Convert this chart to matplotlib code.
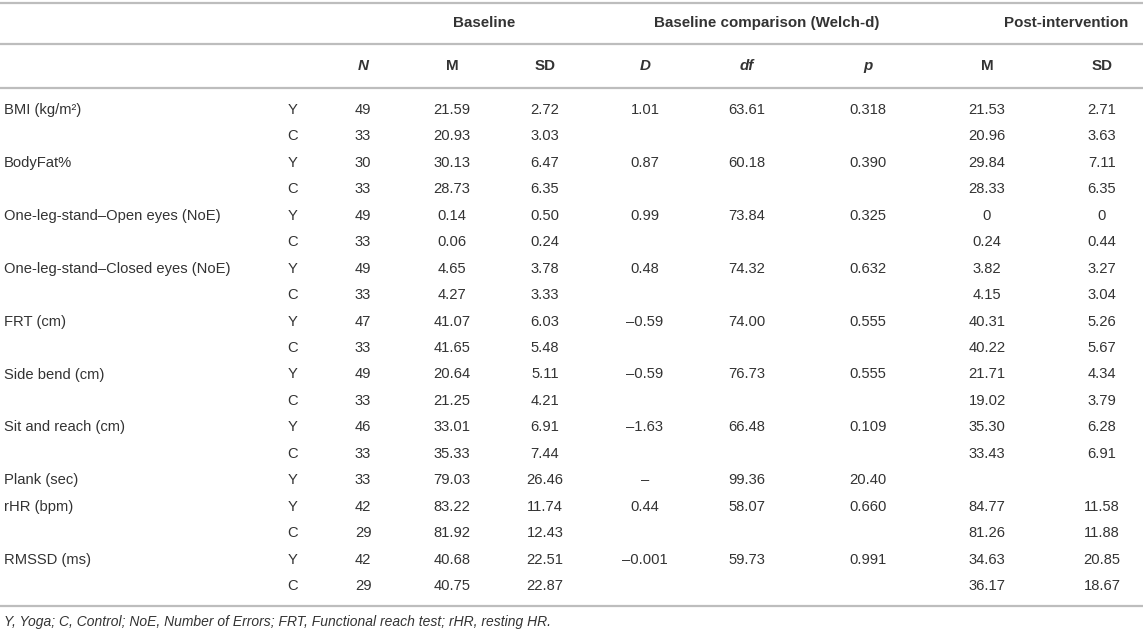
import matplotlib

matplotlib.use("Agg")
import matplotlib.pyplot as plt

W, H = 1143, 635
TXT = "#333333"
RULE = "#bdbdbd"

measures = ["BMI (kg/m²)", "BodyFat%", "One-leg-stand–Open eyes (NoE)",
            "One-leg-stand–Closed eyes (NoE)", "FRT (cm)", "Side bend (cm)",
            "Sit and reach (cm)", "Plank (sec)", "rHR (bpm)", "RMSSD (ms)"]
# one entry per printed row; measure index says which measure the row belongs to
row_measure = [0, 0, 1, 1, 2, 2, 3, 3, 4, 4, 5, 5, 6, 6, 7, 8, 8, 9, 9]
group = ["Y", "C", "Y", "C", "Y", "C", "Y", "C", "Y", "C", "Y", "C", "Y", "C",
         "Y", "Y", "C", "Y", "C"]
n = ["49", "33", "30", "33", "49", "33", "49", "33", "47", "33", "49", "33",
     "46", "33", "33", "42", "29", "42", "29"]
base_m = ["21.59", "20.93", "30.13", "28.73", "0.14", "0.06", "4.65", "4.27",
          "41.07", "41.65", "20.64", "21.25", "33.01", "35.33", "79.03",
          "83.22", "81.92", "40.68", "40.75"]
base_sd = ["2.72", "3.03", "6.47", "6.35", "0.50", "0.24", "3.78", "3.33",
           "6.03", "5.48", "5.11", "4.21", "6.91", "7.44", "26.46", "11.74",
           "12.43", "22.51", "22.87"]
welch_d = ["1.01", "", "0.87", "", "0.99", "", "0.48", "", "–0.59", "",
           "–0.59", "", "–1.63", "", "–", "0.44", "", "–0.001", ""]
welch_df = ["63.61", "", "60.18", "", "73.84", "", "74.32", "", "74.00", "",
            "76.73", "", "66.48", "", "99.36", "58.07", "", "59.73", ""]
welch_p = ["0.318", "", "0.390", "", "0.325", "", "0.632", "", "0.555", "",
           "0.555", "", "0.109", "", "20.40", "0.660", "", "0.991", ""]
post_m = ["21.53", "20.96", "29.84", "28.33", "0", "0.24", "3.82", "4.15",
          "40.31", "40.22", "21.71", "19.02", "35.30", "33.43", "", "84.77",
          "81.26", "34.63", "36.17"]
post_sd = ["2.71", "3.63", "7.11", "6.35", "0", "0.44", "3.27", "3.04", "5.26",
           "5.67", "4.34", "3.79", "6.28", "6.91", "", "11.58", "11.88",
           "20.85", "18.67"]

group_headers = ["Baseline", "Baseline comparison (Welch-d)", "Post-intervention"]
col_headers = ["N", "M", "SD", "D", "df", "p", "M", "SD"]
col_italic = [True, False, False, True, True, True, False, False]
footnote = ("Y, Yoga; C, Control; NoE, Number of Errors; FRT, Functional reach test; "
            "rHR, resting HR.")

# layout in pixels
col_x = [363, 452, 545, 645, 747, 868, 987, 1102]
group_x = [484, 767, 1066]
grp_x, label_x = 293, 4
row_y0, row_dy = 110, 26.45
rules_y = [3, 44, 88, 606]
FS = 10.6
FS_HEAD = 10.9

plt.rcParams["font.family"] = ["Liberation Sans", "DejaVu Sans"]
fig = plt.figure(figsize=(W / 100, H / 100), dpi=100)
ax = fig.add_axes([0, 0, 1, 1])
ax.set_xlim(0, W)
ax.set_ylim(H, 0)
ax.axis("off")

for y in rules_y:
    ax.axhline(y, color=RULE, lw=1.6)

for x, t in zip(group_x, group_headers):
    ax.text(x, 23, t, ha="center", va="center", fontsize=FS_HEAD,
            fontweight="bold", color=TXT)
for x, t, it in zip(col_x, col_headers, col_italic):
    ax.text(x, 66, t, ha="center", va="center", fontsize=FS_HEAD, fontweight="bold",
            style="italic" if it else "normal", color=TXT)

cols = [n, base_m, base_sd, welch_d, welch_df, welch_p, post_m, post_sd]
seen = set()
for i, mi in enumerate(row_measure):
    y = row_y0 + i * row_dy
    if mi not in seen:
        seen.add(mi)
        ax.text(label_x, y, measures[mi], ha="left", va="center", fontsize=FS, color=TXT)
    ax.text(grp_x, y, group[i], ha="center", va="center", fontsize=FS, color=TXT)
    for x, col in zip(col_x, cols):
        if col[i]:
            ax.text(x, y, col[i], ha="center", va="center", fontsize=FS, color=TXT)

ax.text(label_x, 622, footnote, ha="left", va="center", fontsize=10,
        style="italic", color=TXT)

fig.savefig("out.png", dpi=100)
